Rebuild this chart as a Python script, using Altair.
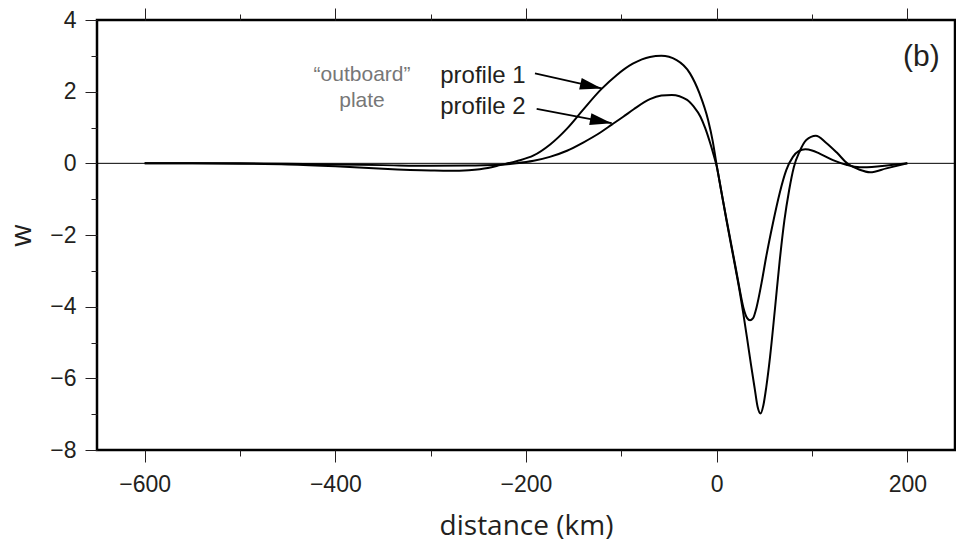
import math

import altair as alt
import pandas as pd

# ---- flexure profiles: distance (km) vs deflection w ----
p1_x = [-600, -550, -500, -450, -400, -350, -300, -280, -260, -240, -227, -210,
        -192, -175, -157, -140, -121, -105, -88, -70, -58, -42, -28, -18, -9,
        -4, 0, 5, 10, 15, 20, 24, 28, 32, 36, 40, 43, 46, 49, 52, 56, 61, 66,
        71, 76, 81, 87, 94, 104, 115, 126, 137, 150, 161, 178, 200]
p1_w = [0, 0, -0.01, -0.03, -0.08, -0.15, -0.20, -0.21, -0.19, -0.13, -0.05,
        0.06, 0.22, 0.52, 0.97, 1.50, 2.07, 2.46, 2.78, 2.97, 3.00, 2.88, 2.51,
        1.95, 1.21, 0.60, -0.05, -0.80, -1.55, -2.26, -2.97, -3.55, -4.20,
        -4.90, -5.62, -6.30, -6.80, -6.98, -6.75, -6.25, -5.40, -4.10, -2.75,
        -1.60, -0.75, -0.10, 0.33, 0.65, 0.77, 0.57, 0.30, 0.00, -0.18, -0.25,
        -0.14, 0.0]

p2_x = [-600, -550, -500, -450, -400, -350, -300, -260, -227, -210, -192, -175,
        -157, -140, -122, -110, -98, -87, -70, -58, -47, -31, -24, -17, -12,
        -7, -3, 0, 5, 10, 15, 20, 24, 28, 32, 35, 38, 42, 47, 52, 59, 66, 73,
        80, 86, 93, 100, 108, 122, 136, 150, 171, 200]
p2_w = [0, 0, 0, -0.01, -0.03, -0.05, -0.07, -0.06, -0.04, 0.0, 0.07, 0.18,
        0.35, 0.58, 0.86, 1.08, 1.30, 1.51, 1.79, 1.89, 1.91, 1.77, 1.58, 1.30,
        0.98, 0.58, 0.22, -0.08, -0.80, -1.52, -2.22, -2.92, -3.50, -4.02,
        -4.32, -4.38, -4.33, -4.00, -3.35, -2.60, -1.67, -0.84, -0.19, 0.18,
        0.34, 0.39, 0.36, 0.27, 0.09, -0.04, -0.11, -0.08, 0.0]

# ---- axes ----
x_major = [-600, -400, -200, 0, 200]
x_minor = [-500, -300, -100, 100]
y_major = [-8, -6, -4, -2, 0, 2, 4]
y_minor = [-7, -5, -3, -1, 1, 3]
X_DOMAIN = [-650, 250]
Y_DOMAIN = [-8, 4]
W, H = 858, 430

# ---- annotations ----
label_text = ["profile 1", "profile 2"]
label_x = [-290, -290]
label_w = [2.44, 1.58]

arrow_x0 = [-190.6, -188.8]
arrow_w0 = [2.51, 1.52]
arrow_x1 = [-120.6, -110.1]
arrow_w1 = [2.09, 1.12]

plate_text = ["\u201coutboard\u201d", "plate"]
plate_x = [-372, -372]
plate_w = [2.46, 1.74]

panel_text = ["(b)"]
panel_x = [234]
panel_w = [2.98]

# arrowhead orientation in screen space (clockwise degrees)
sx = W / (X_DOMAIN[1] - X_DOMAIN[0])
sy = H / (Y_DOMAIN[1] - Y_DOMAIN[0])
arrow_angle = [
    math.degrees(math.atan2((a0 - a1) * sy, (b1 - b0) * sx))
    for b0, a0, b1, a1 in zip(arrow_x0, arrow_w0, arrow_x1, arrow_w1)
]

profiles = pd.concat([
    pd.DataFrame({"x": p1_x, "w": p1_w, "profile": "profile 1"}),
    pd.DataFrame({"x": p2_x, "w": p2_w, "profile": "profile 2"}),
])
labels = pd.DataFrame({"text": label_text, "x": label_x, "w": label_w})
arrows = pd.DataFrame({"x0": arrow_x0, "w0": arrow_w0, "x1": arrow_x1,
                       "w1": arrow_w1, "angle": arrow_angle})
plate = pd.DataFrame({"text": plate_text, "x": plate_x, "w": plate_w})
panel = pd.DataFrame({"text": panel_text, "x": panel_x, "w": panel_w})

xs = alt.Scale(domain=X_DOMAIN, nice=False, zero=False)
ys = alt.Scale(domain=Y_DOMAIN, nice=False, zero=False)

LABEL_FONT = "Liberation Sans"
TITLE_FONT = "Open Sans"
INK = "#231f20"


def x_axis(values, size, orient, labels=False, title=None):
    kw = dict(values=values, tickSize=size, orient=orient, labels=labels,
              domain=False, grid=False, tickColor=INK, tickWidth=1)
    if labels:
        kw.update(labelFont=LABEL_FONT, labelFontSize=23, labelColor=INK,
                  labelPadding=11, labelFlush=False)
    if title:
        kw.update(title=title, titleFont=TITLE_FONT, titleFontSize=28,
                  titleFontWeight="normal", titleColor=INK,
                  titleBaseline="alphabetic", titleY=84)
    else:
        kw.update(title=None)
    return alt.Axis(**kw)


def y_axis(values, size, labels=False, title=None):
    kw = dict(values=values, tickSize=size, orient="left", labels=labels,
              domain=False, grid=False, tickColor=INK, tickWidth=1)
    if labels:
        kw.update(labelFont=LABEL_FONT, labelFontSize=23, labelColor=INK,
                  labelPadding=9)
    if title:
        kw.update(title=title, titleFont=TITLE_FONT, titleFontSize=29,
                  titleFontWeight="normal", titleColor=INK,
                  titleBaseline="alphabetic", titleX=-67, titleY=H / 2)
    else:
        kw.update(title=None)
    return alt.Axis(**kw)


lines = alt.Chart(profiles).mark_line(
    color="black", strokeWidth=2, interpolate="monotone"
).encode(
    x=alt.X("x:Q", scale=xs, axis=x_axis(x_major, 12, "bottom", True, "distance (km)")),
    y=alt.Y("w:Q", scale=ys, axis=y_axis(y_major, 12, True, "w")),
    detail="profile:N",
)

zero = alt.Chart(pd.DataFrame({"w": [0]})).mark_rule(
    color="black", strokeWidth=1
).encode(
    y=alt.Y("w:Q", scale=ys, axis=y_axis(y_minor, 6)),
)

profile_labels = alt.Chart(labels).mark_text(
    font=LABEL_FONT, fontSize=24, color=INK, align="left", baseline="middle"
).encode(
    x=alt.X("x:Q", scale=xs, axis=x_axis(x_minor, 6, "bottom")),
    y=alt.Y("w:Q", scale=ys, axis=None),
    text="text:N",
)

arrow_shafts = alt.Chart(arrows).mark_rule(
    color="black", strokeWidth=1.7
).encode(
    x=alt.X("x0:Q", scale=xs, axis=x_axis(x_major, 12, "top")),
    y=alt.Y("w0:Q", scale=ys, axis=None),
    x2="x1:Q",
    y2="w1:Q",
)

arrow_heads = alt.Chart(arrows).mark_point(
    shape="M0,0L-1,-0.27L-1,0.27Z", size=1900, filled=True,
    color="black", opacity=1, strokeWidth=0
).encode(
    x=alt.X("x1:Q", scale=xs, axis=x_axis(x_minor, 6, "top")),
    y=alt.Y("w1:Q", scale=ys, axis=None),
    angle=alt.Angle("angle:Q", scale=None),
)

plate_labels = alt.Chart(plate).mark_text(
    font=LABEL_FONT, fontSize=21, color="#777777", align="center",
    baseline="middle"
).encode(
    x=alt.X("x:Q", scale=xs, axis=None),
    y=alt.Y("w:Q", scale=ys, axis=None),
    text="text:N",
)

panel_label = alt.Chart(panel).mark_text(
    font=LABEL_FONT, fontSize=30, color=INK, align="right", baseline="middle"
).encode(
    x=alt.X("x:Q", scale=xs, axis=None),
    y=alt.Y("w:Q", scale=ys, axis=None),
    text="text:N",
)

chart = alt.layer(
    lines, zero, profile_labels, arrow_shafts, arrow_heads, plate_labels,
    panel_label,
).resolve_axis(
    x="independent", y="independent"
).properties(
    width=W,
    height=H,
    autosize="none",
    padding={"left": 97, "top": 20, "right": 1, "bottom": 96},
    background="white",
).configure_view(
    stroke="black", strokeWidth=2.5
)

chart.save("out.html", embed_options={"renderer": "svg", "actions": False})
